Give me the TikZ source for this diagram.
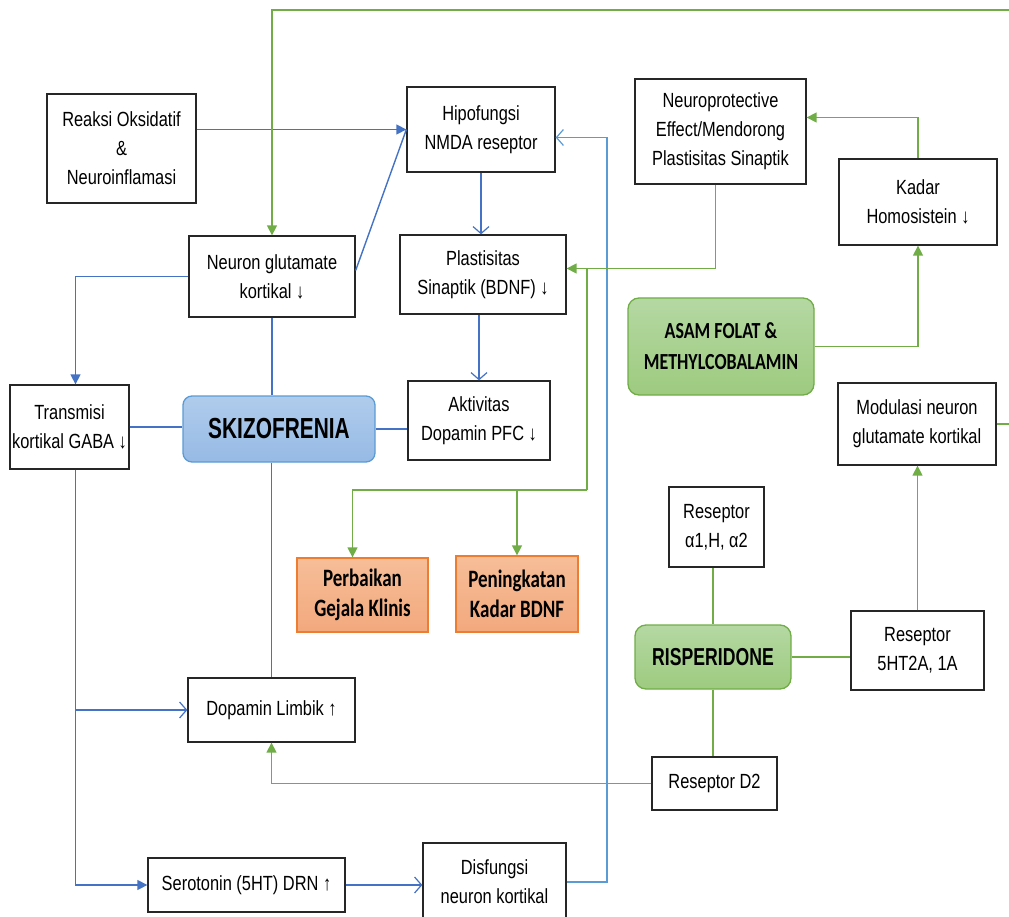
\documentclass[tikz,border=0pt]{standalone}
\usepackage{fontspec}
\setmainfont{Liberation Sans}[FakeStretch=0.8]
\newfontfamily\narrowfont{Liberation Sans}[FakeStretch=0.72]
\newfontfamily\calfont{Carlito}[FakeStretch=0.78]
\newfontfamily\calnarrow{Carlito}[FakeStretch=0.76]
\usetikzlibrary{arrows.meta}
\definecolor{lineblue}{RGB}{68,114,196}
\definecolor{railblue}{RGB}{91,155,213}
\definecolor{linegreen}{RGB}{112,173,71}
\definecolor{orangeline}{RGB}{237,125,49}
\tikzset{
  box/.style={draw=black!85, line width=1.3pt, fill=white, align=center, inner sep=2pt,
    font=\fontsize{20.5}{29}\selectfont},
  mainbox/.style={draw=railblue, line width=1.3pt, rounded corners=9pt, align=center,
    top color={rgb,255:red,176;green,204;blue,236}, bottom color={rgb,255:red,150;green,186;blue,229},
    font=\narrowfont\fontsize{29}{32}\selectfont\bfseries},
  drugbox/.style={draw=linegreen, line width=1.3pt, rounded corners=11pt, align=center,
    top color={rgb,255:red,181;green,216;blue,163}, bottom color={rgb,255:red,157;green,203;blue,127}},
  outbox/.style={draw=orangeline, line width=1.3pt, align=center,
    top color={rgb,255:red,246;green,190;blue,152}, bottom color={rgb,255:red,243;green,168;blue,125},
    font=\calnarrow\fontsize{25}{30}\selectfont\bfseries},
  blueline/.style={draw=lineblue, line width=1.4pt},
  railline/.style={draw=railblue, line width=1.4pt},
  greenline/.style={draw=linegreen, line width=1.4pt},
  solidtip/.style={-{Triangle[length=10pt,width=10pt]}},
  opentip/.style={-{Straight Barb[length=7pt,width=16pt,line width=1.2pt]}}
}
\begin{document}
\begin{tikzpicture}[x=1pt,y=-1pt]
  \useasboundingbox (0,0) rectangle (1009,917);
  \clip (0,0) rectangle (1009,917);
  \path
    (121.5,148.5) node[box, minimum width=149, minimum height=109] (reaksi) {Reaksi Oksidatif\\\&\\Neuroinflamasi}
    (481,129.5) node[box, minimum width=148, minimum height=85] (hipo) {Hipofungsi\\NMDA reseptor}
    (272,276.5) node[box, minimum width=166, minimum height=81] (glut) {Neuron glutamate\\kortikal ↓}
    (483,274.5) node[box, minimum width=166, minimum height=79] (plast) {Plastisitas\\Sinaptik (BDNF) ↓}
    (720.5,131.5) node[box, minimum width=171, minimum height=105] (neuro) {Neuroprotective\\Effect/Mendorong\\Plastisitas Sinaptik}
    (918,202) node[box, minimum width=158, minimum height=86] (homo) {Kadar\\Homosistein ↓}
    (721,346.5) node[drugbox, minimum width=186, minimum height=97, font=\calfont\fontsize{23}{31}\selectfont\bfseries] (asam) {ASAM FOLAT \&\\METHYLCOBALAMIN}
    (917,424) node[box, minimum width=158, minimum height=82] (modul) {Modulasi neuron\\glutamate kortikal}
    (69.5,427) node[box, minimum width=119, minimum height=84] (gaba) {Transmisi\\kortikal GABA ↓}
    (279,429) node[mainbox, minimum width=192, minimum height=66] (skizo) {SKIZOFRENIA}
    (479,420.5) node[box, minimum width=142, minimum height=79] (aktiv) {Aktivitas\\Dopamin PFC ↓}
    (362.5,595) node[outbox, minimum width=131, minimum height=74] (perbaikan) {Perbaikan\\Gejala Klinis}
    (517,594) node[outbox, minimum width=122, minimum height=76] (peningkatan) {Peningkatan\\Kadar BDNF}
    (716.5,527) node[box, minimum width=95, minimum height=80] (alpha) {Reseptor\\α1,H, α2}
    (713,657) node[drugbox, minimum width=156, minimum height=64, font=\narrowfont\fontsize{24.5}{28}\selectfont\bfseries] (risp) {RISPERIDONE}
    (917.5,650.5) node[box, minimum width=133, minimum height=79] (ht) {Reseptor\\5HT2A, 1A}
    (714.5,783.5) node[box, minimum width=125, minimum height=53] (d2) {Reseptor D2}
    (271.5,710) node[box, minimum width=167, minimum height=64] (limbik) {Dopamin Limbik ↑}
    (246.5,885) node[box, minimum width=197, minimum height=54] (sero) {Serotonin (5HT) DRN ↑}
    (494.5,882) node[box, minimum width=143, minimum height=78] (disf) {Disfungsi\\neuron kortikal};
  \coordinate (gabaout) at ([xshift=6pt]gaba.south);
  \coordinate (rail) at (607,0);
  \coordinate (topright) at (1016,10);
  \coordinate (split) at (587,268);
  \coordinate (bus) at (587,490);
  \begin{scope}[blueline]
    \draw[solidtip] (reaksi.east |- hipo.west) -- (hipo.west);
    \draw ([yshift=6pt]glut.east) -- (hipo.west);
    \draw[opentip] (hipo.south) -- (hipo.south |- plast.north);
    \draw[opentip] (aktiv.north |- plast.south) -- (aktiv.north);
    \draw[solidtip] (glut.west) -| (gabaout |- gaba.north);
    \draw (glut.south) -- (glut.south |- skizo.north);
    \draw (gaba.east) -- (gaba.east -| skizo.west);
    \draw (skizo.east) -- (skizo.east -| aktiv.west);
    \draw (limbik.north |- skizo.south) -- (limbik.north);
    \draw[solidtip] (gabaout) |- (sero.west);
    \draw[opentip] (gabaout |- limbik.west) -- (limbik.west);
    \draw[opentip] (sero.east) -- (sero.east -| disf.west);
  \end{scope}
  \begin{scope}[railline]
    \draw[opentip] (disf.east) -- (disf.east -| rail) |- ([yshift=-8pt]hipo.east);
  \end{scope}
  \begin{scope}[greenline]
    \draw[solidtip] (modul.east) -| (topright) -| (glut.north);
    \draw[solidtip] ([xshift=-5pt]neuro.south) |- ([yshift=6pt]plast.east);
    \draw (split) -- (bus);
    \draw[solidtip] (bus) -| ([xshift=-10pt]perbaikan.north);
    \draw[solidtip] (bus -| peningkatan.north) -- (peningkatan.north);
    \draw[solidtip] (homo.north) |- ([yshift=14pt]neuro.east);
    \draw[solidtip] (asam.east) -| (homo.south);
    \draw (risp.north) -- (risp.north |- alpha.south);
    \draw (risp.east) -- (risp.east -| ht.west);
    \draw (risp.south) -- (risp.south |- d2.north);
    \draw[solidtip] (ht.north) -- (ht.north |- modul.south);
    \draw[solidtip] (d2.west) -| (limbik.south);
  \end{scope}
\end{tikzpicture}
\end{document}
